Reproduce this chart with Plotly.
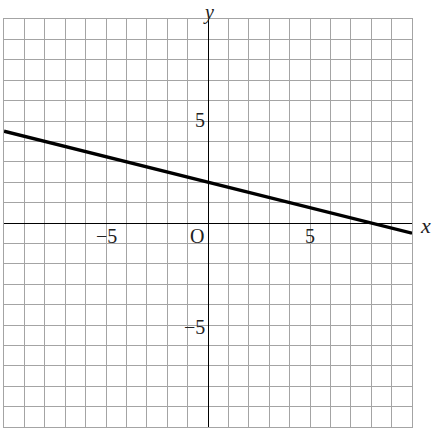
import plotly.graph_objects as go

# line y = -x/4 + 2, drawn across the grid
line_x = [-10, 10]
line_y = [4.5, -0.5]

# labels placed in data units
tick_text = ["\u22125", "5", "O", "5", "\u22125"]
tick_x = [-5, 5, -0.55, -0.05, -0.05]
tick_y = [-0.62, -0.62, -0.62, 5.05, -5.1]
tick_anchor = ["center", "center", "center", "right", "right"]

AX_RANGE = [-10, 10]
FONT = "Liberation Serif"

fig = go.Figure()

fig.add_trace(go.Scatter(
    x=line_x,
    y=line_y,
    mode="lines",
    line=dict(color="black", width=3.4),
    showlegend=False,
    hoverinfo="skip",
))

for t, x, y, a in zip(tick_text, tick_x, tick_y, tick_anchor):
    fig.add_annotation(
        x=x, y=y, text=t, showarrow=False, xanchor=a, yanchor="middle",
        font=dict(family=FONT, size=20, color="#222"),
    )

# axis names sit outside the data range, so use paper coordinates
# (y label is pinned to the top edge of the page)
fig.add_annotation(xref="paper", yref="paper", x=0.5, y=427 / 408,
                   xanchor="center", yanchor="top", borderpad=0,
                   text="<i>y</i>", showarrow=False,
                   font=dict(family=FONT, size=20, color="#222"))
fig.add_annotation(xref="paper", yref="paper", x=1.032, y=0.494,
                   xanchor="center", yanchor="middle",
                   text="<i>x</i>", showarrow=False,
                   font=dict(family=FONT, size=22, color="#222"))

axis_style = dict(
    range=AX_RANGE,
    dtick=1,
    tick0=0,
    showgrid=True,
    gridcolor="#a4a4a4",
    gridwidth=1.3,
    zeroline=True,
    zerolinecolor="black",
    zerolinewidth=1.3,
    showticklabels=False,
    ticks="",
    showline=True,
    linecolor="#a4a4a4",
    linewidth=1.3,
    mirror=True,
    fixedrange=True,
)

fig.update_layout(
    width=434,
    height=428,
    margin=dict(l=4, r=22, t=19, b=1),
    paper_bgcolor="white",
    plot_bgcolor="white",
    xaxis=axis_style,
    yaxis=axis_style,
)

# page body has an 8px default margin; drop it so the figure sits at 0,0
fig.write_html("out.html", config=dict(displayModeBar=False),
               post_script="document.body.style.margin='0';")
